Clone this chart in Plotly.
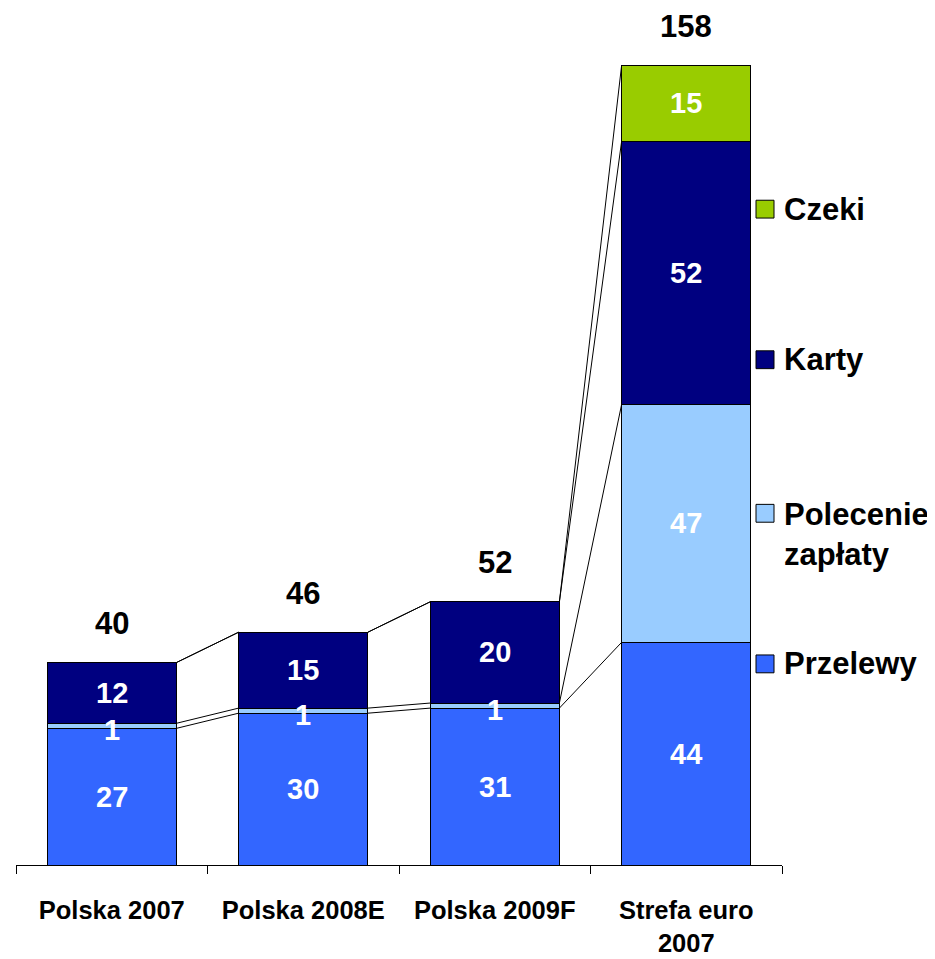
import plotly.graph_objects as go

categories = ["Polska 2007", "Polska 2008E", "Polska 2009F", "Strefa euro<br>2007"]
series_names = ["Przelewy", "Polecenie<br>zapłaty", "Karty", "Czeki"]
przelewy = [27, 30, 31, 44]
polecenie = [1, 1, 1, 47]
karty = [12, 15, 20, 52]
czeki = [0, 0, 0, 15]
totals = [40, 46, 52, 158]
colors = ["#3366FF", "#99CCFF", "#000080", "#99CC00"]

series = [przelewy, polecenie, karty, czeki]
FONT = "Liberation Sans, Arial, sans-serif"
OFF = 8  # page body margin offset
W, H = 935 - OFF, 959 - OFF
ML, MR, MT, MB = 16 - OFF, 153, 2, 86
BARW = 0.675
YTOP = (H - MT - MB) / 5.108
xs = list(range(len(categories)))

fig = go.Figure()
for name, vals, col in zip(series_names, series, colors):
    fig.add_trace(go.Bar(
        x=xs, y=vals, name=name, width=BARW,
        marker=dict(color=col, line=dict(color="black", width=1)),
        showlegend=False, hoverinfo="skip"))

# cumulative tops for connector lines
cum = []
run = [0] * len(xs)
for vals in series:
    run = [r + v for r, v in zip(run, vals)]
    cum.append(list(run))

for tops in cum:
    lx, ly = [], []
    for i in range(len(xs) - 1):
        lx += [xs[i] + BARW / 2, xs[i + 1] - BARW / 2, None]
        ly += [tops[i], tops[i + 1], None]
    fig.add_trace(go.Scatter(x=lx, y=ly, mode="lines",
                             line=dict(color="black", width=1),
                             showlegend=False, hoverinfo="skip"))

annotations = []
base = [0] * len(xs)
for vals in series:
    for i, v in enumerate(vals):
        if v > 0:
            annotations.append(dict(x=xs[i], y=base[i] + v / 2, xref="x", yref="y",
                                    text=f"<b>{v}</b>", showarrow=False,
                                    yshift=-4 if v == 1 else 0,
                                    font=dict(family=FONT, size=29, color="white")))
    base = [b + v for b, v in zip(base, vals)]

for i, t in enumerate(totals):
    annotations.append(dict(x=xs[i], y=t, xref="x", yref="y", text=f"<b>{t}</b>",
                            showarrow=False, yanchor="middle", yshift=39,
                            font=dict(family=FONT, size=31, color="black")))

# manual legend (page pixel layout -> paper coordinates)
PW = W - ML - MR
PH = H - MT - MB
def px(x):
    return (x - OFF - ML) / PW
def py(y):
    return (H - MB - (y - OFF)) / PH

legend_y = [670, 518, 363, 211]
shapes = []
for name, col, yc in zip(series_names, colors, legend_y):
    shapes.append(dict(type="rect", xref="paper", yref="paper",
                       x0=px(756), x1=px(774), y0=py(yc + 9), y1=py(yc - 9),
                       fillcolor=col, line=dict(color="black", width=1)))
    multi = "<br>" in name
    annotations.append(dict(x=px(782), y=py(yc - 18 if multi else yc), xref="paper", yref="paper",
                            text=f"<b>{name}</b>", showarrow=False,
                            xanchor="left", yanchor="top" if multi else "middle",
                            align="left",
                            font=dict(family=FONT, size=31, color="black")))

fig.update_layout(
    width=W, height=H,
    margin=dict(l=ML, r=MR, t=MT, b=MB),
    barmode="stack",
    plot_bgcolor="white", paper_bgcolor="white",
    showlegend=False,
    annotations=annotations,
    shapes=shapes,
    xaxis=dict(range=[-0.5, 3.5], tickvals=xs,
               ticktext=[f"<b>{c}</b>" for c in categories],
               ticks="outside", ticklen=22, tickcolor="rgba(0,0,0,0)",
               tickfont=dict(family=FONT, size=25.5, color="black"),
               showline=True, linecolor="black", linewidth=1,
               showgrid=False, zeroline=False,
               minor=dict(tickvals=[-0.5, 0.5, 1.5, 2.5, 3.5], ticks="outside",
                          ticklen=8, tickcolor="black", tickwidth=1, showgrid=False)),
    yaxis=dict(range=[0, YTOP], visible=False, showgrid=False, zeroline=False),
)

fig.write_html("out.html")
